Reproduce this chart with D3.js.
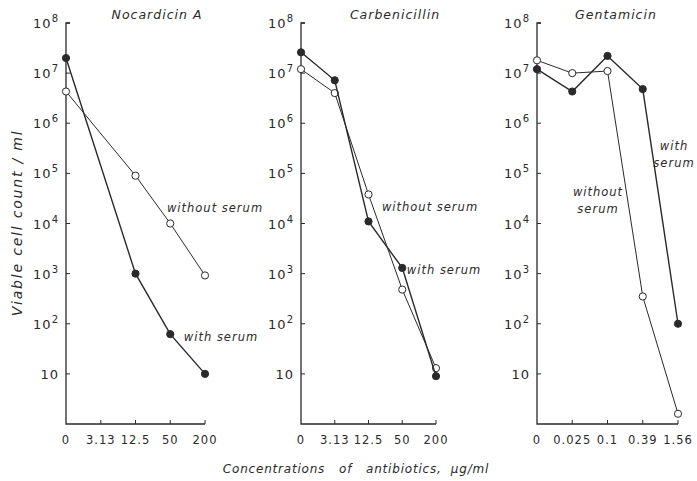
<!DOCTYPE html>
<html>
<head>
<meta charset="utf-8">
<script src="https://cdn.jsdelivr.net/npm/d3@7"></script>
<style>
  body { margin: 0; background: #fff; }
  svg { font-family: "DejaVu Sans", sans-serif; }
  .lbl { fill: #2a2a2a; letter-spacing: 1px; }
</style>
</head>
<body>
<svg width="697" height="481"></svg>
<script>
// Data
var titles = ["Nocardicin A", "Carbenicillin", "Gentamicin"];
var doses = [
  ["0", "3.13", "12.5", "50", "200"],
  ["0", "3.13", "12.5", "50", "200"],
  ["0", "0.025", "0.1", "0.39", "1.56"]
];
var withSerum = [
  [2.0e7, null, 1.0e3, 62, 10],
  [2.6e7, 7.2e6, 1.1e4, 1.3e3, 9],
  [1.2e7, 4.3e6, 2.2e7, 4.8e6, 100]
];
var withoutSerum = [
  [4.3e6, null, 9.0e4, 1.0e4, 920],
  [1.2e7, 4.0e6, 3.8e4, 480, 13],
  [1.8e7, 1.0e7, 1.1e7, 350, 1.6]
];
var yTicks = [10, 1e2, 1e3, 1e4, 1e5, 1e6, 1e7, 1e8];

// Canvas
var svg = d3.select("svg");
var ink = "#2a2a2a";

// x extent of each panel (y axis position .. last tick)
var panelX = [[66, 205], [301, 436], [537, 678]];
var titleX = [157, 395, 616];
var yTop = 23, yBottom = 424;

var y = d3.scaleLog().domain([1, 1e8]).range([yBottom, yTop]);

// series labels in each panel (centre x, first baseline)
var notes = [
  [{t: ["without serum"], x: 215, y: 212}, {t: ["with serum"], x: 221, y: 341}],
  [{t: ["without serum"], x: 430, y: 211}, {t: ["with serum"], x: 444, y: 274}],
  [{t: ["with", "serum"], x: 674, y: 150}, {t: ["without", "serum"], x: 598, y: 196}]
];

titles.forEach(function(title, p) {
  var x0 = panelX[p][0], x1 = panelX[p][1];
  var x = d3.scalePoint().domain(d3.range(doses[p].length)).range([x0, x1]);
  var g = svg.append("g");

  // y axis: line, top stub, inward ticks
  g.append("path")
      .attr("d", "M" + (x0 + 4) + "," + yTop + "H" + x0 + "V" + yBottom + "H" + x1)
      .attr("fill", "none").attr("stroke", ink).attr("stroke-width", 1.3);

  g.selectAll(".ytick").data(yTicks).enter().append("line")
      .attr("x1", x0).attr("x2", x0 + 4)
      .attr("y1", function(d) { return y(d); })
      .attr("y2", function(d) { return y(d); })
      .attr("stroke", ink).attr("stroke-width", 1);

  var yl = g.selectAll(".ylab").data(yTicks).enter().append("text")
      .attr("class", "lbl")
      .attr("x", x0 - 7)
      .attr("y", function(d) { return y(d) + 5; })
      .attr("text-anchor", "end")
      .attr("font-size", 13);
  yl.append("tspan").text("10");
  yl.filter(function(d) { return d > 10; })
    .append("tspan")
      .attr("dy", -6).attr("font-size", 10)
      .text(function(d) { return Math.round(Math.log10(d)); });

  // x axis ticks pointing up
  g.selectAll(".xtick").data(d3.range(1, doses[p].length)).enter().append("line")
      .attr("x1", function(i) { return x(i); })
      .attr("x2", function(i) { return x(i); })
      .attr("y1", yBottom).attr("y2", yBottom - 4)
      .attr("stroke", ink).attr("stroke-width", 1);

  g.selectAll(".xlab").data(doses[p]).enter().append("text")
      .attr("class", "lbl")
      .attr("x", function(d, i) { return x(i); })
      .attr("y", yBottom + 20)
      .attr("text-anchor", "middle")
      .attr("font-size", 11.5)
      .text(function(d) { return d; });

  // title
  g.append("text")
      .attr("class", "lbl")
      .attr("x", titleX[p])
      .attr("y", 19)
      .attr("text-anchor", "middle")
      .attr("font-size", 12.5)
      .attr("font-style", "italic")
      .text(title);

  // series lines and points
  var series = [
    {v: withoutSerum[p], fill: "#fff", w: 1},
    {v: withSerum[p], fill: ink, w: 1.4}
  ];
  series.forEach(function(s) {
    var pts = s.v.map(function(d, i) { return {d: d, i: i}; })
                 .filter(function(o) { return o.d != null; });
    g.append("path")
        .datum(pts)
        .attr("fill", "none").attr("stroke", ink).attr("stroke-width", s.w)
        .attr("d", d3.line()
          .x(function(o) { return x(o.i); })
          .y(function(o) { return y(o.d); }));
    g.selectAll(null).data(pts).enter().append("circle")
        .attr("cx", function(o) { return x(o.i); })
        .attr("cy", function(o) { return y(o.d); })
        .attr("r", 3.6)
        .attr("fill", s.fill).attr("stroke", ink).attr("stroke-width", 1);
  });

  // annotations
  notes[p].forEach(function(n) {
    var t = g.append("text")
        .attr("class", "lbl")
        .attr("x", n.x).attr("y", n.y)
        .attr("text-anchor", "middle")
        .attr("font-size", 11.5)
        .attr("font-style", "italic");
    n.t.forEach(function(s, k) {
      t.append("tspan").attr("x", n.x).attr("dy", k ? 17 : 0).text(s);
    });
  });
});

// axis titles
svg.append("text")
    .attr("class", "lbl")
    .attr("transform", "translate(22,223) rotate(-90)")
    .attr("text-anchor", "middle")
    .attr("font-size", 14)
    .attr("font-style", "italic")
    .style("letter-spacing", "1.8px")
    .text("Viable cell count / ml");

svg.append("text")
    .attr("class", "lbl")
    .attr("x", 356).attr("y", 473)
    .attr("text-anchor", "middle")
    .attr("font-size", 12)
    .attr("font-style", "italic")
    .attr("xml:space", "preserve")
    .style("letter-spacing", "0.8px")
    .text("Concentrations   of   antibiotics,  \u00b5g/ml");
</script>
</body>
</html>
